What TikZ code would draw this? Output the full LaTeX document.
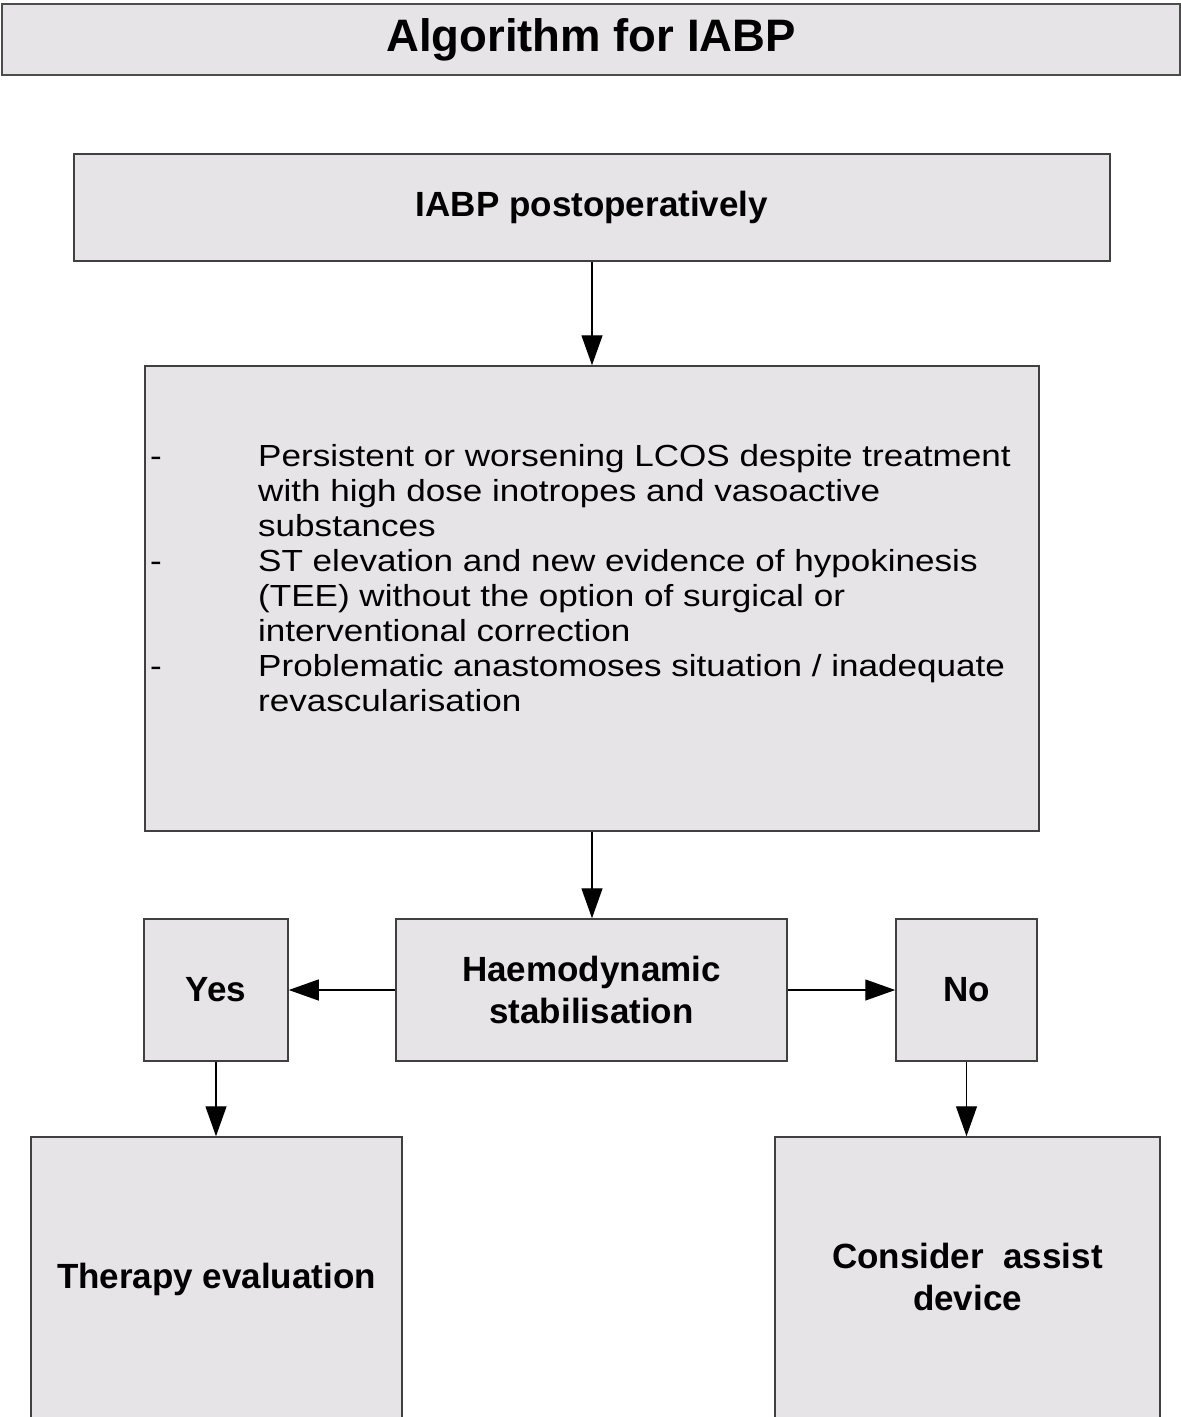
\documentclass[tikz,border=0pt]{standalone}
\usepackage{fontspec}
\setmainfont{Liberation Sans}
\newfontfamily\listfont{Liberation Sans}[FakeStretch=1.15]
\usetikzlibrary{arrows.meta}
\definecolor{boxgray}{RGB}{230,228,230}
\tikzset{
	box/.style={draw=black!75,fill=boxgray,line width=1.5pt,inner sep=0pt,align=center,
		font=\fontsize{35}{42}\selectfont\bfseries},
	arr/.style={-{Triangle[length=30pt,width=21pt]},line width=1.3pt},
	dashnode/.style={anchor=base west,inner sep=0pt,font=\fontsize{30.5}{35}\listfont}
}
\begin{document}
\begin{tikzpicture}[x=1pt,y=-1pt,line join=miter]
	\useasboundingbox (0,0) rectangle (1181,1417);
	\clip (0,0) rectangle (1181,1417);
	% title bar
	\node[box,line width=2pt,draw=black!70,minimum width=1178,minimum height=71,
		font=\fontsize{45.5}{52}\selectfont\bfseries] (title) at (591,39.5) {Algorithm for IABP};
	% main column
	\node[box,minimum width=1036,minimum height=107] (post) at (592,207.5) {IABP postoperatively};
	\node[box,minimum width=894,minimum height=465] (crit) at (592,598.5) {};
	\node[anchor=north west,inner sep=0pt,align=left,font=\fontsize{30.5}{35}\listfont] (crittext) at (258,444)
		{Persistent or worsening LCOS despite treatment\\
		with high dose inotropes and vasoactive\\
		substances\\
		ST elevation and new evidence of hypokinesis\\
		(TEE) without the option of surgical or\\
		interventional correction\\
		Problematic anastomoses situation / inadequate\\
		revascularisation};
	\foreach \i/\yb in {1/466.5,2/571.5,3/676.5}
		\node[dashnode] (dash\i) at (150,\yb) {-};
	\node[box,minimum width=391,minimum height=142] (haemo) at (591.5,990) {Haemodynamic\\stabilisation};
	% branches
	\node[box,minimum width=144,minimum height=142] (yes) at (216,990) {Yes};
	\node[box,minimum width=141,minimum height=142] (no) at (966.5,990) {No};
	\node[box,minimum width=371,minimum height=284] (therapy) at (216.5,1279) {Therapy evaluation};
	\node[box,minimum width=385,minimum height=284,text depth=5pt] (assist) at (967.5,1279) {Consider~ assist\\device};
	% connectors
	\draw[arr] (post.south) -- (post.south |- crit.north);
	\draw[arr] (crit.south) -- (crit.south |- haemo.north);
	\draw[arr] (haemo.west) -- (yes.east);
	\draw[arr] (haemo.east) -- (no.west);
	\draw[arr] (yes.south) -- (yes.south |- therapy.north);
	\draw[arr] (no.south) -- (no.south |- assist.north);
\end{tikzpicture}
\end{document}
